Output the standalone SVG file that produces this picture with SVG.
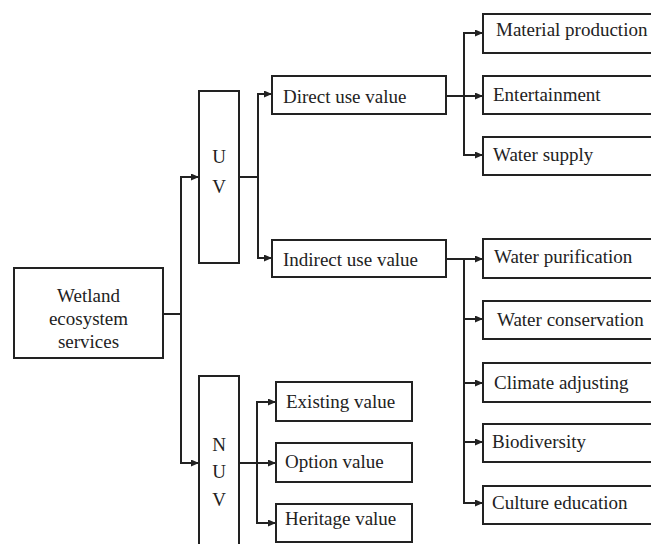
<svg xmlns="http://www.w3.org/2000/svg" width="651" height="544" viewBox="0 0 651 544">
<style>
.box{fill:#fff;stroke:#222;stroke-width:2}
.ar{fill:none;stroke:#222;stroke-width:2;marker-end:url(#ah)}
text{font-family:"Liberation Serif","Times New Roman",serif;font-size:19px;fill:#222}
.c{text-anchor:middle}
</style>
<defs>
<marker id="ah" markerUnits="userSpaceOnUse" markerWidth="9" markerHeight="8" refX="8" refY="3.5" orient="auto">
<path d="M0,0 L8,3.5 L0,7 z" fill="#222"/>
</marker>
</defs>
<rect width="651" height="544" fill="#fff"/>
<g id="connectors">
<path class="ar" d="M153,314 H181 V177 H199"/>
<path class="ar" d="M181,314 V463 H199"/>
<path class="ar" d="M239,177 H258 V94 H272"/>
<path class="ar" d="M258,177 V258 H272"/>
<path class="ar" d="M446,96 H464 V33 H483"/>
<path class="ar" d="M464,96 H483"/>
<path class="ar" d="M464,96 V155 H483"/>
<path class="ar" d="M446,259 H483"/>
<path class="ar" d="M464,259 V503 H483"/>
<path class="ar" d="M464,319 H483"/>
<path class="ar" d="M464,383 H483"/>
<path class="ar" d="M464,442 H483"/>
<path class="ar" d="M239,463 H257 V402 H276"/>
<path class="ar" d="M257,463 H276"/>
<path class="ar" d="M257,463 V523 H276"/>
</g>
<g id="wetland"><rect class="box" x="14" y="268" width="149" height="90"/>
<text class="c" x="88.5" y="302">Wetland</text><text class="c" x="88.5" y="325">ecosystem</text><text class="c" x="88.5" y="348">services</text></g>
<g id="uv"><rect class="box" x="199" y="91" width="40" height="172"/>
<text class="c" x="219" y="163">U</text><text class="c" x="219" y="193">V</text></g>
<g id="nuv"><rect class="box" x="199" y="376" width="40" height="180"/>
<text class="c" x="219" y="451">N</text><text class="c" x="219" y="478">U</text><text class="c" x="219" y="506">V</text></g>
<g id="direct"><rect class="box" x="272" y="76" width="174" height="38"/><text x="283" y="103">Direct use value</text></g>
<g id="indirect"><rect class="box" x="272" y="240" width="174" height="37"/><text x="283" y="266">Indirect use value</text></g>
<g id="material"><rect class="box" x="483" y="14" width="180" height="39"/><text x="496" y="36">Material production</text></g>
<g id="entertainment"><rect class="box" x="483" y="76" width="180" height="38"/><text x="493" y="101">Entertainment</text></g>
<g id="watersupply"><rect class="box" x="483" y="137" width="180" height="38"/><text x="493" y="161">Water supply</text></g>
<g id="purification"><rect class="box" x="483" y="239" width="180" height="39"/><text x="494" y="263">Water purification</text></g>
<g id="conservation"><rect class="box" x="483" y="301" width="180" height="38"/><text x="497" y="326">Water conservation</text></g>
<g id="climate"><rect class="box" x="483" y="363" width="180" height="39"/><text x="494" y="389">Climate adjusting</text></g>
<g id="biodiversity"><rect class="box" x="483" y="424" width="180" height="38"/><text x="492" y="448">Biodiversity</text></g>
<g id="culture"><rect class="box" x="483" y="486" width="180" height="38"/><text x="492" y="509">Culture education</text></g>
<g id="existing"><rect class="box" x="276" y="382" width="136" height="39"/><text x="286" y="408">Existing value</text></g>
<g id="option"><rect class="box" x="276" y="443" width="136" height="39"/><text x="285" y="468">Option value</text></g>
<g id="heritage"><rect class="box" x="276" y="504" width="136" height="38"/><text x="285" y="525">Heritage value</text></g>
</svg>
